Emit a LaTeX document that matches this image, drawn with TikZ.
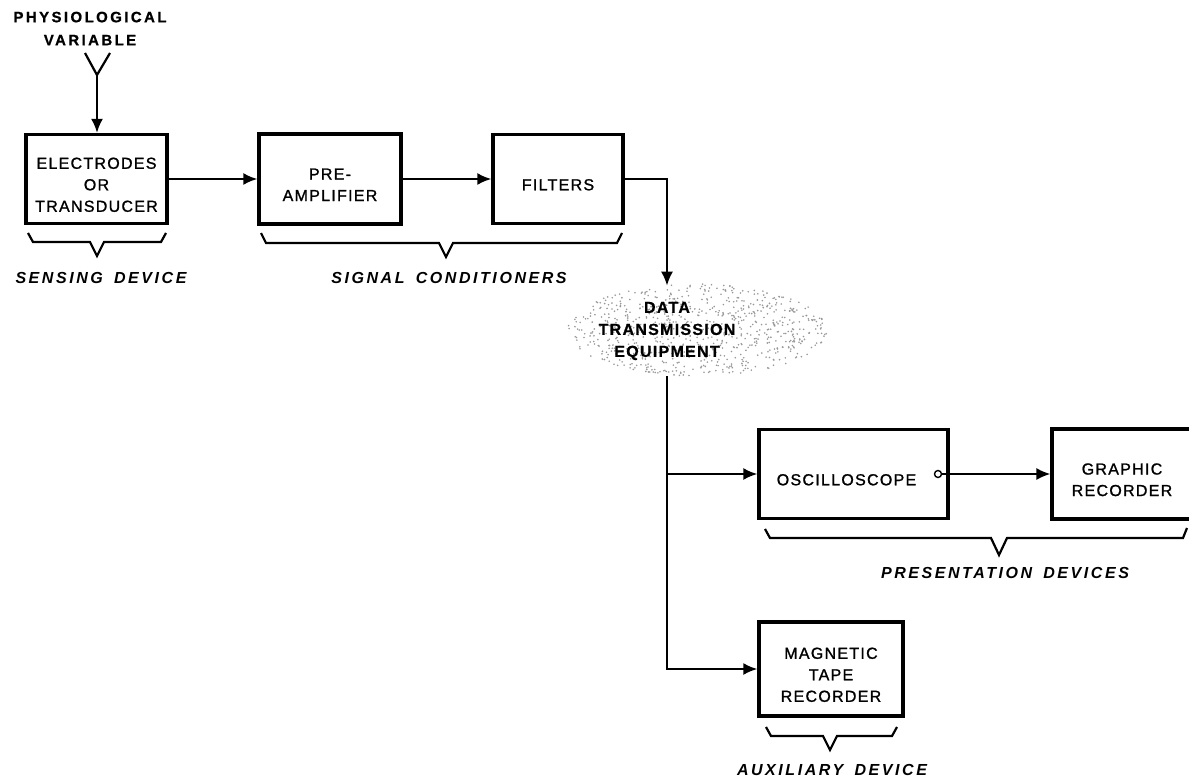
\documentclass[tikz,border=0pt]{standalone}
\usepackage{fontspec}
\setmainfont{Liberation Sans}
\newfontfamily\boxfont{Liberation Sans}[LetterSpace=8,FakeBold=1.2]
\newfontfamily\labfont{Liberation Sans}[LetterSpace=16,WordSpace=1.6]
\newfontfamily\headfont{Liberation Sans}[LetterSpace=16,FakeBold=0.8]
\newfontfamily\dtefont{Liberation Sans}[LetterSpace=8,FakeBold=0.8]
\usetikzlibrary{arrows.meta}
\newcommand\boxlines[1]{\raisebox{-7pt}[\height][\depth]{\begin{tabular}{@{}c@{}}#1\end{tabular}}}
\begin{document}
\begin{tikzpicture}[x=1pt,y=-1pt,
  blk/.style={draw,line width=3.2pt,inner sep=0pt,font=\boxfont\fontsize{16}{21.5}\selectfont},
  conn/.style={line width=2.2pt},
  arr/.style={conn,-{Latex[length=14pt,width=12pt]}},
  brc/.style={line width=2.2pt,line join=miter},
  lab/.style={inner sep=0pt,font=\labfont\bfseries\itshape\fontsize{16}{20}\selectfont},
  head/.style={inner sep=0pt,align=center,font=\headfont\bfseries\fontsize{15}{23}\selectfont},
  dte/.style={inner xsep=4pt,inner ysep=16pt,align=center,font=\dtefont\bfseries\fontsize{16}{22}\selectfont},
  dotc/.style={fill=black!40}
]
\useasboundingbox (0,0) rectangle (1189,778);

% stippled cloud behind the data transmission label
\pgfmathsetseed{12}
\foreach \i in {1,...,750}{
  \pgfmathsetmacro\ra{rnd*360}
  \pgfmathsetmacro\rr{sqrt(rnd)}
  \pgfmathsetmacro\px{697+130*\rr*cos(\ra)}
  \pgfmathsetmacro\py{330+46*\rr*sin(\ra)}
  \fill[dotc] (\px,\py) circle (0.9);
}

% blocks
\node[blk,minimum width=141,minimum height=89] (elec) at (96.5,179) {\boxlines{ELECTRODES\\OR\\TRANSDUCER}};
\node[blk,minimum width=142,minimum height=90] (pre) at (330,179) {\boxlines{PRE-\\AMPLIFIER}};
\node[blk,minimum width=130,minimum height=89] (filt) at (558,179) {\boxlines{FILTERS}};
\node[blk,minimum width=189,minimum height=89] (osc) at (853.5,474) {\boxlines{OSCILLOSCOPE\hspace*{14pt}}};
\node[blk,minimum width=140,minimum height=90] (graph) at (1122,474) {\boxlines{GRAPHIC\\RECORDER}};
\node[blk,minimum width=144,minimum height=94] (tape) at (831,669) {\boxlines{MAGNETIC\\TAPE\\RECORDER}};
\node[dte] (dte) at (667,331) {DATA\\TRANSMISSION\\EQUIPMENT};

% input
\node[head] (phys) at (90,28.5) {PHYSIOLOGICAL\\VARIABLE};
\coordinate (yl) at (85,53);
\coordinate (yr) at (110,53);
\coordinate (yj) at (97,75);
\draw[conn,line join=miter] (yl) -- (yj) -- (yr);
\draw[arr] (yj) -- (yj |- elec.north);

% connectors
\draw[arr] (elec.east) -- (pre.west);
\draw[arr] (pre.east) -- (filt.west);
\draw[arr] (filt.east) -| (dte.north);
\coordinate (br) at (dte.south |- osc.west);
\draw[arr] (dte.south) |- (tape.west);
\draw[arr] (br) -- (osc.west);
\node[draw,circle,line width=1.4pt,inner sep=0pt,minimum size=7pt] (oc) at (938,474) {};
\draw[arr,line width=1.8pt] (oc.east) -- (graph.west);

% braces
\draw[brc] (28,233) -- (33,242) -- (90,242) -- (97,256) -- (104,242) -- (161,242) -- (166,233);
\draw[brc] (261,233) -- (266,243) -- (439,243) -- (446,257) -- (453,243) -- (617,243) -- (622,233);
\draw[brc] (765,529) -- (770,538) -- (991,538) -- (999,555) -- (1007,538) -- (1183,538) -- (1187,528);
\draw[brc] (766,727) -- (771,736) -- (823,736) -- (830,750) -- (837,736) -- (892,736) -- (897,727);

% group labels
\node[lab] (sens) at (101,278) {SENSING DEVICE};
\node[lab] (sig) at (449,278) {SIGNAL CONDITIONERS};
\node[lab] (pres) at (1005,573) {PRESENTATION DEVICES};
\node[lab] (aux) at (832,770) {AUXILIARY DEVICE};
\end{tikzpicture}
\end{document}
